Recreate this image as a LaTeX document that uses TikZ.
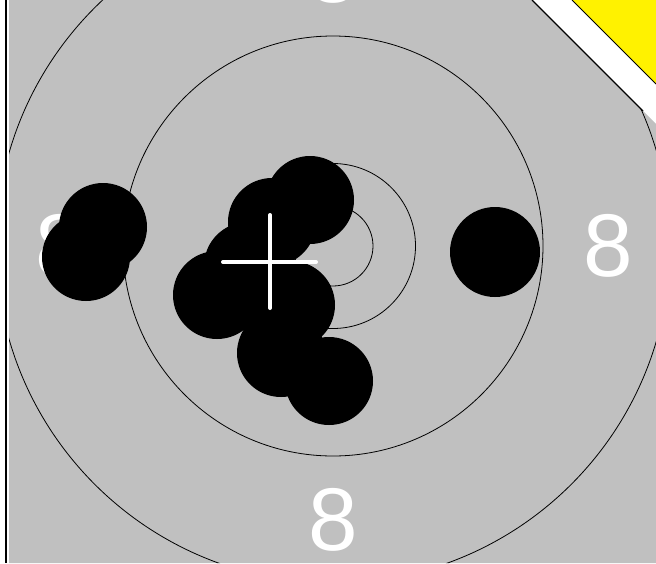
\documentclass[tikz,border=0pt]{standalone}
\usepackage{fontspec}
\newfontfamily\scorefont{Liberation Sans}
\usepackage{tikz}
\definecolor{cardgray}{RGB}{192,192,192}

\begin{document}
\begin{tikzpicture}[
  x=1pt, y=-1pt,
  ring/.style={draw=black, line width=0.8pt},
  hole/.style={circle, fill=black, inner sep=0pt, minimum size=88pt},
  score/.style={text=white, inner sep=0pt, font=\scorefont\fontsize{89}{89}\selectfont},
  aim/.style={draw=white, line width=4pt, line cap=round}
]
  \clip (0,0) rectangle (656,563);

  % corner tab
  \fill[yellow] (572,0) -- (656,0) -- (656,84) -- cycle;
  \draw[line width=1pt] (572,0) -- (656,84);

  % card
  \fill[cardgray] (9,0) -- (532,0) -- (656,124) -- (656,563) -- (9,563) -- cycle;
  \draw[line width=1.8pt] (6,0) -- (6,563);
  \draw[line width=1.2pt] (532,0) -- (643,111);

  \coordinate (ctr) at (333,246);

  % ring numbers
  \node[score] (n8top)   at (333,-28) {8};
  \node[score] (n8left)  at (60,246)  {8};
  \node[score] (n8right) at (608,246) {8};
  \node[score] (n8bot)   at (333,520) {8};

  % rings
  \begin{scope}
    \clip (9,0) -- (532,0) -- (656,124) -- (656,563) -- (9,563) -- cycle;
    \draw[ring] (ctr) circle (40);
    \draw[ring] (ctr) circle (82.5);
    \draw[ring] (ctr) circle (210);
    \draw[ring] (ctr) circle (337);
  \end{scope}

  % shots
  \node[hole] (s1)  at (103,227) {};
  \node[hole] (s2)  at (86,257)  {};
  \node[hole] (s3)  at (310,200) {};
  \node[hole] (s4)  at (272,222) {};
  \node[hole] (s5)  at (248,266) {};
  \node[hole] (s6)  at (217,295) {};
  \node[hole] (s7)  at (291,305) {};
  \node[hole] (s8)  at (281,353) {};
  \node[hole] (s9)  at (329,381) {};
  \node[hole, minimum size=90pt] (s10) at (495,252) {};

  % group centre
  \coordinate (mpi) at (270,262);
  \draw[aim] ([xshift=-47pt]mpi) -- ([xshift=46pt]mpi);
  \draw[aim] ([yshift=47pt]mpi) -- ([yshift=-46pt]mpi);
\end{tikzpicture}
\end{document}
